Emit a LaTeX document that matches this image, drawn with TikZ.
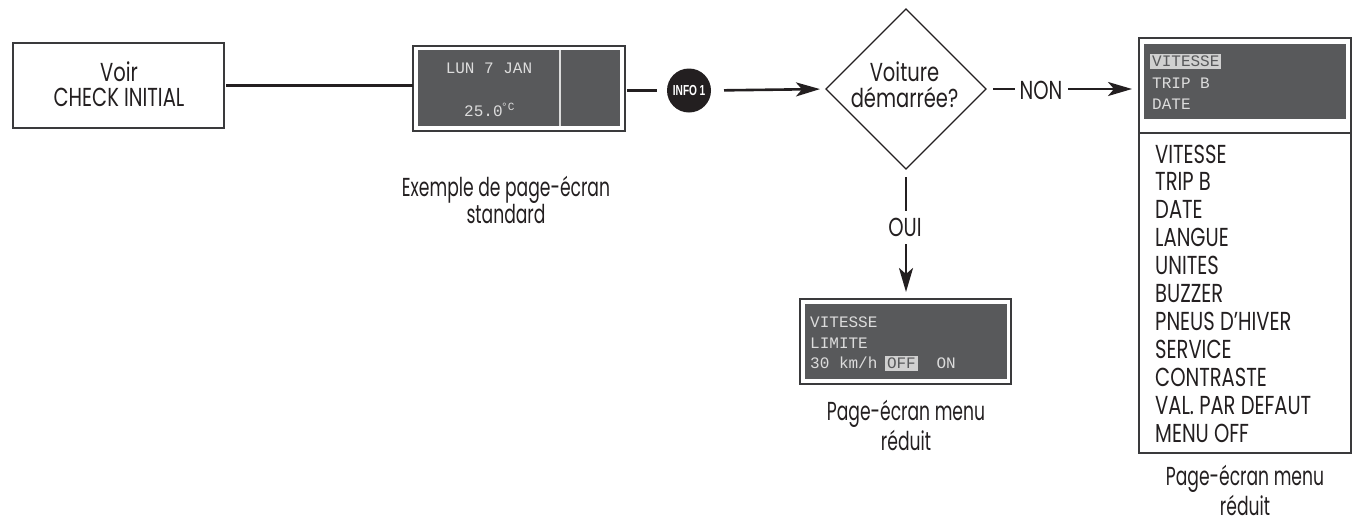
\documentclass[tikz,border=0pt]{standalone}
\usepackage{fontspec}
\setmainfont{Liberation Sans}
\setmonofont{Liberation Mono}
\newfontfamily\condcaps[FakeStretch=0.75]{Poppins}
\newfontfamily\condcap[FakeStretch=0.66]{Poppins}
\newfontfamily\condb[FakeStretch=0.7]{Liberation Sans}
\usetikzlibrary{arrows.meta,shapes.geometric}
\definecolor{ink}{HTML}{231F20}
\definecolor{frameink}{HTML}{3A3A3C}
\definecolor{lcd}{HTML}{58595B}
\definecolor{lcdtext}{HTML}{DCDCDC}
\definecolor{lcdhi}{HTML}{D0D0D0}
\newcommand{\lcdfont}{\ttfamily\fontsize{16}{21.5}\selectfont}
\newcommand{\hi}[1]{{\setlength{\fboxsep}{2pt}\hspace*{-2pt}\colorbox{lcdhi}{\textcolor{lcd}{#1}}\hspace*{-2pt}}}
\tikzset{
  x=1pt,y=-1pt,
  box/.style={draw=frameink,line width=1.3pt,fill=white,inner sep=0pt,outer sep=0pt,anchor=north west},
  screen/.style={fill=lcd,inner sep=0pt,outer sep=0pt,anchor=north west},
  lcdlabel/.style={text=lcdtext,inner sep=0pt,font=\lcdfont},
  txt/.style={text=ink,inner sep=0pt,align=center,font=\condcaps\fontsize{26}{25}\selectfont},
  captxt/.style={text=ink,inner sep=0pt,align=center,font=\condcap\fontsize{26}{#1}\selectfont},
  wire/.style={draw=ink,line width=2.6pt},
  arrow/.style={wire,-{Stealth[length=24pt,width=14pt,inset=6pt]}},
}
\begin{document}
\begin{tikzpicture}
\useasboundingbox (0,0) rectangle (1359,523);
% start box
\node[box,minimum width=211pt,minimum height=85pt] (voir) at (13,43) {};
\node[txt] (voirt) at (119,84) {Voir\\CHECK INITIAL};
% standard screen
\node[box,minimum width=212pt,minimum height=85pt] (s1) at (413,46) {};
\node[screen,minimum width=202pt,minimum height=76pt] (s1i) at (418,50) {};
\draw[lcdtext,line width=1.5pt] (560,50) -- (560,126);
\node[lcdlabel] (s1a) at (489,68) {LUN 7 JAN};
\node[lcdlabel,anchor=base west] (s1b) at (464,116) {25.0};
\node[lcdlabel,anchor=base west,font=\ttfamily\fontsize{11}{12}\selectfont] (s1c) at (501,110) {°C};
\node[captxt=25] (s1cap) at (506,200) {Exemple de page-écran\\standard};
% info
\node[circle,fill=ink,minimum size=44pt,inner sep=0pt,outer sep=0pt,text=white,font=\condb\bfseries\fontsize{14.5}{14}\selectfont] (info) at (689,90.5) {INFO\,1};
% diamond
\node[diamond,aspect=1,draw=ink,line width=1.2pt,minimum width=160pt,minimum height=160pt,inner sep=0pt,outer sep=0pt] (dec) at (906,89) {};
\node[txt,font=\condcaps\fontsize{26}{26}\selectfont] (dect) at (904.5,85) {Voiture\\démarrée?};
\node[txt] (non) at (1041,90) {NON};
\node[txt] (oui) at (905,227) {OUI};
% right panel
\node[box,minimum width=212pt,minimum height=95pt] (r1) at (1139,38) {};
\node[box,minimum width=212pt,minimum height=320pt] (r2) at (1139,133) {};
\node[screen,minimum width=202pt,minimum height=75pt] (r1i) at (1144,44) {};
\node[lcdlabel,align=left,anchor=north west] (r1t) at (1152,54) {\hi{VITESSE}\\TRIP B\\DATE};
\node[txt,align=left,anchor=north west,font=\condcaps\fontsize{26}{27.9}\selectfont] (list) at (1155,144.5) {VITESSE\\TRIP B\\DATE\\LANGUE\\UNITES\\BUZZER\\PNEUS D’HIVER\\SERVICE\\CONTRASTE\\VAL. PAR DEFAUT\\MENU OFF};
\node[captxt=30] (r2cap) at (1245,490) {Page-écran menu\\réduit};
% menu screen
\node[box,minimum width=211pt,minimum height=85pt] (s3) at (800,299) {};
\node[screen,minimum width=202pt,minimum height=75pt] (s3i) at (805,304) {};
\node[lcdlabel,align=left,anchor=north west,font=\ttfamily\fontsize{16}{20.5}\selectfont] (s3t) at (810,317) {VITESSE\\LIMITE\\30 km/h \hi{OFF}\hspace{1.3em}ON};
\node[captxt=30] (s3cap) at (906,425) {Page-écran menu\\réduit};
% connectors
\draw[wire] (voir.east) ++(2,0) -- (s1.west |- voir.east);
\draw[wire,shorten <=2pt,shorten >=10pt] (s1.east |- info.west) -- (info.west);
\draw[arrow,shorten <=13pt,shorten >=6pt] (info.east) -- (dec.west);
\draw[wire,shorten <=7pt] (dec.east) -- (1015,89);
\draw[arrow,shorten >=7pt] (1068,89) -- (r1.west |- dec.east);
\draw[wire,shorten <=8pt] (dec.south) -- (906,211);
\draw[arrow,shorten >=7pt] (906,244) -- (s3.north -| dec.south);
\end{tikzpicture}
\end{document}
